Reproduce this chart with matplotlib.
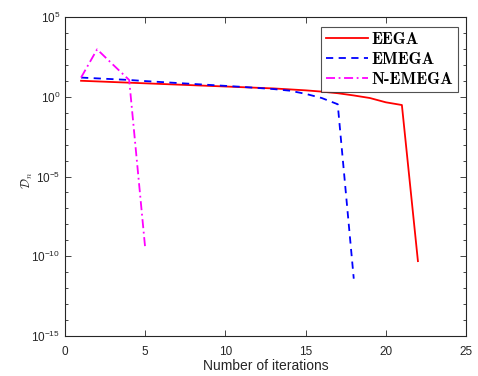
import matplotlib
matplotlib.use("Agg")
import matplotlib.pyplot as plt
import numpy as np
from matplotlib.ticker import FixedLocator, NullFormatter

plt.rcParams['font.family'] = ['Liberation Sans', 'DejaVu Sans']
plt.rcParams['mathtext.fontset'] = 'cm'

# Data (log10 of D_n)
eega_x = list(range(1, 23))
eega_log = [1.0, 0.96, 0.92, 0.88, 0.84, 0.80, 0.76, 0.72, 0.68, 0.64, 0.60,
            0.56, 0.52, 0.46, 0.40, 0.32, 0.22, 0.08, -0.08, -0.35, -0.52, -10.3]
emega_x = list(range(1, 19))
emega_log = [1.2, 1.15, 1.1, 1.05, 0.98, 0.92, 0.86, 0.80, 0.74, 0.68, 0.62,
             0.55, 0.48, 0.38, 0.18, -0.08, -0.47, -11.4]
nemega_x = [1, 2, 3, 4, 5]
nemega_log = [1.2, 2.97, 2.0, 1.05, -9.5]

labels = ["EEGA", "EMEGA", "N-EMEGA"]

fig = plt.figure(figsize=(4.78, 3.76), dpi=100)
ax = fig.add_axes([0.136, 0.106, 0.839, 0.849])

ax.plot(eega_x, 10.0 ** np.array(eega_log), color='red', lw=1.3, ls='-', label=labels[0])
ax.plot(emega_x, 10.0 ** np.array(emega_log), color='blue', lw=1.3, ls=(0, (4, 3)), label=labels[1])
ax.plot(nemega_x, 10.0 ** np.array(nemega_log), color='magenta', lw=1.3, ls=(0, (5, 2, 1, 2)), label=labels[2])

ax.set_yscale('log')
ax.set_xlim(0, 25)
ax.set_ylim(1e-15, 1e5)
ax.set_xticks([0, 5, 10, 15, 20, 25])
ax.yaxis.set_major_locator(FixedLocator([1e-15, 1e-10, 1e-5, 1e0, 1e5]))
ax.yaxis.set_minor_locator(FixedLocator([10.0 ** k for k in range(-15, 6)]))
ax.yaxis.set_minor_formatter(NullFormatter())

axcol = '#262626'
for s in ax.spines.values():
    s.set_color(axcol)
    s.set_linewidth(0.8)
ax.tick_params(which='both', direction='in', top=True, right=True, colors=axcol, labelsize=8.5, width=0.6)
ax.tick_params(which='major', length=4)
ax.tick_params(which='minor', length=2.5)
ax.tick_params(axis='x', pad=7)

ax.set_xlabel('Number of iterations', fontsize=10, color=axcol, labelpad=1)
ax.set_ylabel(r'$\mathcal{D}_n$', fontsize=9, color=axcol)
ax.yaxis.set_label_coords(-0.075, 0.489)

leg = ax.legend(loc='upper right', bbox_to_anchor=(0.980, 0.969), borderaxespad=0,
                prop={'family': 'cmb10', 'size': 12}, frameon=True, fancybox=False,
                edgecolor=axcol, handlelength=2.5, labelspacing=0.3,
                handletextpad=0.2, borderpad=0.3)
leg.get_frame().set_linewidth(0.8)

fig.savefig('out.png', dpi=100)
